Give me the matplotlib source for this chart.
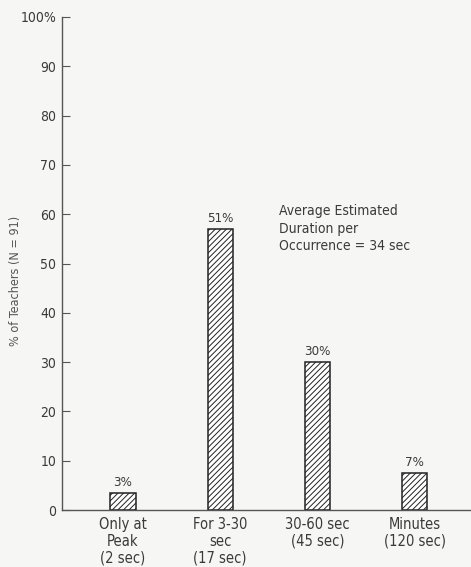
import numpy as np
import matplotlib
matplotlib.use("Agg")
import matplotlib.pyplot as plt

# data
categories = ["Only at\nPeak\n(2 sec)", "For 3-30\nsec\n(17 sec)",
              "30-60 sec\n(45 sec)", "Minutes\n(120 sec)"]
heights = [3.4, 57, 30, 7.5]
bar_labels = ["3%", "51%", "30%", "7%"]
yticks = [0, 10, 20, 30, 40, 50, 60, 70, 80, 90, 100]
ytick_labels = ["0", "10", "20", "30", "40", "50", "60", "70", "80", "90", "100%"]

plt.rcParams['font.family'] = ['DejaVu Sans']
plt.rcParams['font.stretch'] = 'condensed'
ink = "#3a3a3a"
bg = "#f6f6f4"

fig = plt.figure(figsize=(4.71, 5.67), dpi=100, facecolor=bg)
ax = fig.add_axes([62/471, 1 - 510/567, 1 - 62/471, 493/567])
ax.set_facecolor(bg)

x = np.arange(len(categories))
plt.rcParams['hatch.linewidth'] = 0.7
ax.bar(x, heights, width=0.26, color="white", edgecolor="#222222",
       hatch="//////", linewidth=1.1)

for xi, h, lab in zip(x, heights, bar_labels):
    ax.text(xi, h + 0.8, lab, ha="center", va="bottom", fontsize=9.5, color=ink)

ax.text(1.6, 62, "Average Estimated\nDuration per\nOccurrence = 34 sec",
        ha="left", va="top", fontsize=10, color=ink, linespacing=1.3)

ax.set_xlim(-0.627, 3.58)
ax.set_ylim(0, 100)
ax.set_yticks(yticks)
ax.set_yticklabels(ytick_labels, fontsize=10, color=ink)
ax.set_xticks(x)
ax.set_xticklabels(categories, fontsize=10.5, color=ink, linespacing=1.15)
ax.tick_params(axis="y", direction="in", length=6, width=0.8, color="#555555", pad=4)
ax.tick_params(axis="x", length=0, pad=5)

for s in ["top", "right"]:
    ax.spines[s].set_visible(False)
for s in ["left", "bottom"]:
    ax.spines[s].set_color("#555555")
    ax.spines[s].set_linewidth(1.0)

ax.set_ylabel("% of Teachers (N = 91)", fontsize=9, color="#555555")
ax.yaxis.set_label_coords(-0.098, 0.465)

fig.savefig("out.png", dpi=100, facecolor=bg)
